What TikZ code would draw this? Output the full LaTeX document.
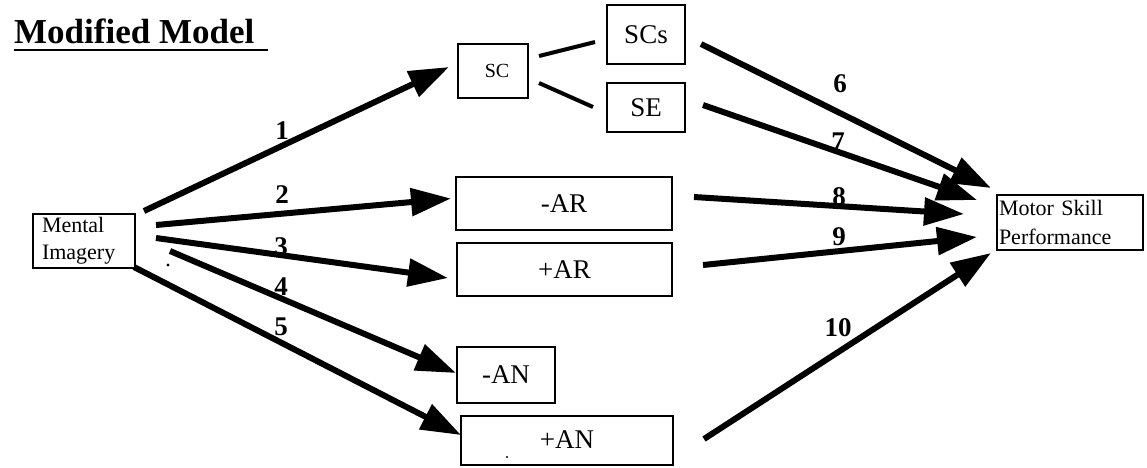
\documentclass[tikz,border=0pt]{standalone}
\usepackage{fontspec}
\setmainfont{Liberation Serif}
\usetikzlibrary{arrows.meta,calc}
\begin{document}
\begin{tikzpicture}[x=1pt,y=-1pt,
  box/.style={draw,line width=2pt,inner sep=0pt,font=\fontsize{27}{30}\selectfont},
  arr/.style={line width=6pt,-{Triangle[length=40pt,width=27pt]}},
  lnk/.style={line width=4pt},
  num/.style={font=\fontsize{27}{30}\selectfont\bfseries,inner sep=0pt}]
\useasboundingbox (0,0) rectangle (1147,467);
% title
\node[anchor=base west,inner sep=0pt,font=\fontsize{35}{40}\selectfont\bfseries] (title) at (14,43) {Modified Model};
\draw[line width=2.5pt] ($(title.base west)+(0,7)$) -- ($(title.base west)+(254,7)$);
% boxes
\node[box,minimum width=102pt,minimum height=54pt,align=left,text width=84pt,font=\fontsize{22}{27}\selectfont] (mi) at (84,241) {Mental\\Imagery};
\node[box,minimum width=70pt,minimum height=54pt,font=\fontsize{20}{22}\selectfont] (sc) at (493,71) {\hspace{8pt}SC};
\node[box,minimum width=78pt,minimum height=59pt] (scs) at (646,34.5) {SCs};
\node[box,minimum width=78pt,minimum height=49pt] (se) at (646,107.5) {SE};
\node[box,minimum width=216pt,minimum height=53pt] (arm) at (564,203.5) {-AR};
\node[box,minimum width=215pt,minimum height=53pt] (arp) at (564.5,269.5) {+AR};
\node[box,minimum width=98pt,minimum height=56pt] (anm) at (506,375) {-AN};
\node[box,minimum width=212pt,minimum height=49pt] (anp) at (567,440) {+AN};
\node[box,minimum width=146pt,minimum height=55pt,align=left,text width=142pt,font=\fontsize{22}{29}\selectfont] (msp) at (1070,222.5) {Motor Skill\\Performance};
% SC links
\draw[lnk] ($(sc.east)+(10,-15)$) -- ($(scs.west)+(-11,7.5)$);
\draw[lnk] ($(sc.east)+(10,12)$) -- ($(se.west)+(-13,-0.5)$);
% left arrows
\draw[arr] ($(mi.north east)+(8,-2)$) -- ($(sc.west)+(-8,-4)$);
\draw[arr] ($(mi.east)+(20,-16)$) -- ($(arm.west)+(-4,-5)$);
\draw[arr] ($(mi.east)+(20,-3)$) -- ($(arp.west)+(-8,8.5)$);
\draw[arr] ($(mi.east)+(34,10)$) -- ($(anm.west)+(0,-2)$);
\draw[arr] ($(mi.south east)+(-2,-2)$) -- ($(anp.west)+(1,-5)$);
% right arrows
\draw[arr] ($(scs.east)+(15,9.5)$) -- ($(msp.west)+(-5,-34.5)$);
\draw[arr] ($(se.east)+(17,-2.5)$) -- ($(msp.west)+(-19,-22.5)$);
\draw[arr] ($(arm.east)+(21,-6.5)$) -- ($(msp.west)+(-32,-8.5)$);
\draw[arr] ($(arp.east)+(30,-4.5)$) -- ($(msp.west)+(-19,14.5)$);
\draw[arr] ($(anp.east)+(30,-1)$) -- ($(msp.west)+(-5,30.5)$);
% labels
\node[num] (n1) at (282,131) {1};
\node[num] (n2) at (282,195) {2};
\node[num] (n3) at (281,247) {3};
\node[num] (n4) at (281,287) {4};
\node[num] (n5) at (281,327) {5};
\node[num] (n6) at (840,84) {6};
\node[num] (n7) at (838,142) {7};
\node[num] (n8) at (839,197) {8};
\node[num] (n9) at (839,237) {9};
\node[num] (n10) at (838,328) {10};
% stray dots
\fill (168,265) circle (1.6pt);
\fill (507,457) circle (1.2pt);
\end{tikzpicture}
\end{document}
